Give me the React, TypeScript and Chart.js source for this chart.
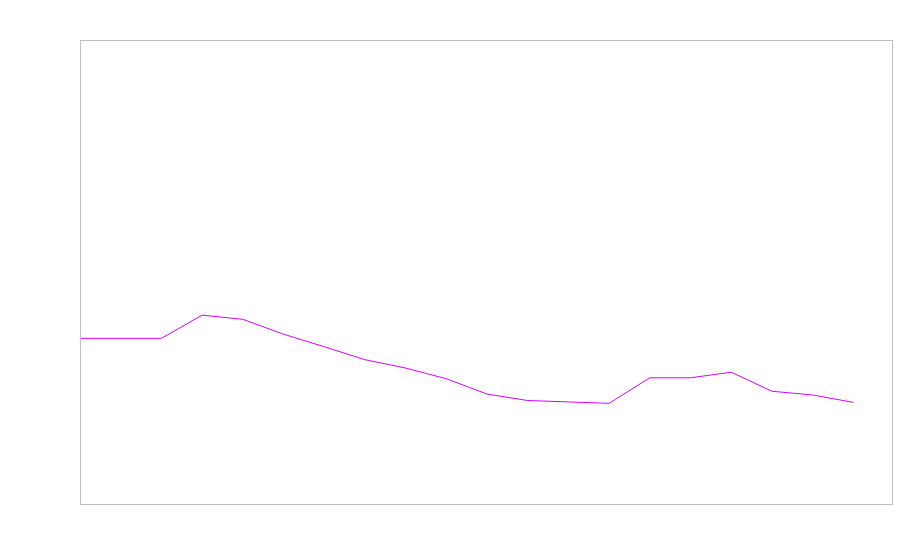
import React, { useEffect, useRef } from "react";
import { Chart, registerables } from "chart.js";

Chart.register(...registerables);

const categories: number[] = Array.from({ length: 20 }, (_, i) => i);
const seriesValues: number[] = [
  35.7, 35.7, 35.7, 40.7, 39.8, 36.6, 33.9, 31.1, 29.3, 27.0,
  23.7, 22.3, 22.0, 21.7, 27.2, 27.2, 28.4, 24.3, 23.5, 21.9,
];
const xMin = 0;
const xMax = 19.95;
const yMin = 0;
const yMax = 100;

const frame = {
  id: "frame",
  afterDraw(chart: any) {
    const { ctx, chartArea } = chart;
    ctx.save();
    ctx.strokeStyle = "#c0c0c0";
    ctx.lineWidth = 1;
    ctx.strokeRect(
      Math.round(chartArea.left) + 0.5,
      Math.round(chartArea.top) + 0.5,
      Math.round(chartArea.right - chartArea.left),
      Math.round(chartArea.bottom - chartArea.top)
    );
    ctx.restore();
  },
};

export default function App() {
  const ref = useRef<HTMLCanvasElement | null>(null);
  useEffect(() => {
    if (!ref.current) return;
    const chart = new Chart(ref.current, {
      type: "line",
      data: {
        datasets: [
          {
            data: categories.map((c, i) => ({ x: c, y: seriesValues[i] })),
            borderColor: "#d400ff",
            borderWidth: 1,
            pointRadius: 0,
            fill: false,
            tension: 0,
          },
        ],
      },
      options: {
        animation: false,
        responsive: true,
        maintainAspectRatio: false,
        layout: { padding: { left: 80, top: 40, right: 8, bottom: 56 } },
        plugins: { legend: { display: false }, tooltip: { enabled: false } },
        scales: {
          x: { type: "linear", display: false, min: xMin, max: xMax },
          y: { display: false, min: yMin, max: yMax },
        },
      },
      plugins: [frame],
    });
    return () => chart.destroy();
  }, []);
  return (
    <div style={{ position: "absolute", left: 0, top: 0, width: 900, height: 560, background: "#fff" }}>
      <canvas ref={ref} />
    </div>
  );
}
